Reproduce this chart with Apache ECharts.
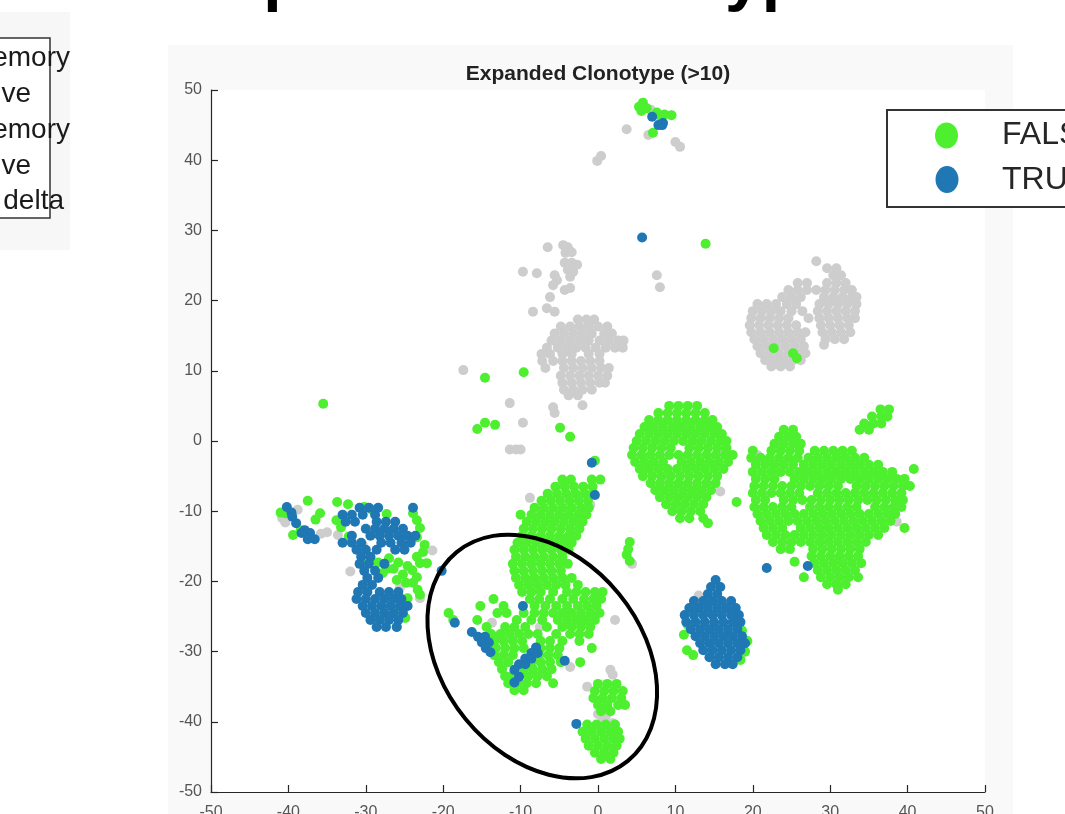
<!DOCTYPE html>
<html>
<head>
<meta charset="utf-8">
<script src="https://cdn.jsdelivr.net/npm/echarts@6/dist/echarts.min.js"></script>
<style>
  html, body { margin: 0; padding: 0; background: #fff; }
  #chart { width: 1065px; height: 814px; }
</style>
</head>
<body>
<div id="chart"></div>
<script>
// each row: [y, x1, x2, ...]  (t-SNE coordinates)
const grayRows = [
  [47.2, 6.8], [44.4, 3.7], [43.6, 6.5], [42.6, 10.0], [41.9, 10.6], [40.6, 0.4], [39.9, -0.1],
  [23.6, 7.6], [21.9, 8.0],
  [27.9, -4.5], [27.6, -6.5, -3.9], [26.9, -3.4], [26.8, -4.2], [25.4, -4.3, -3.4], [25.1, -2.7],
  [24.4, -3.9], [24.1, -9.7, -3.2], [23.9, -7.9], [23.6, -5.6], [23.4, -3.6], [22.9, -5.3],
  [22.2, -5.8], [21.8, -3.6], [21.5, -4.3], [20.5, -6.2], [18.9, -6.6], [18.4, -8.4, -5.6],
  [17.3, -2.6, -1.5, -0.5],
  [16.3, -4.8, -3.6, -2.4, -1.2, 0.0, 1.2],
  [15.3, -5.6, -4.4, -3.2, -2.0, -0.8, 0.8, 1.8],
  [14.3, -6.0, -4.8, -3.6, -2.4, -1.2, 0.2, 1.4, 2.6, 3.3],
  [13.3, -6.6, -5.2, -4.0, -2.8, -1.6, -0.3, 1.0, 2.2, 3.2],
  [12.4, -7.3, -6.2, -4.6, -3.4, -1.2, 0.2],
  [11.4, -7.2, -5.8, -4.6, -3.4, -2.2, -1.0, 0.2],
  [10.4, -6.8, -4.4, -3.2, -2.0, -0.8, 0.4, 1.4],
  [9.3, -4.8, -3.6, -2.4, -1.2, 0.0, 1.2],
  [8.3, -4.6, -3.4, -2.2, -1.0, 0.2, 0.9],
  [7.3, -4.4, -3.2, -2.0, -0.8],
  [6.5, -3.8, -2.6],
  [10.1, -17.4], [5.4, -11.4], [5.1, -2.0], [4.8, -5.8], [4.0, -5.6], [2.6, -9.7],
  [-1.2, -11.4, -10.6, -10.0], [-8.1, -8.8], [-9.1, -1.0],
  [25.6, 28.2], [24.6, 29.6, 30.8], [23.6, 30.4, 31.4],
  [22.5, 25.8, 27.0, 29.6, 30.8, 32.0],
  [21.5, 24.6, 25.8, 27.0, 28.2, 29.4, 30.6, 31.8, 32.8],
  [20.5, 23.8, 25.0, 26.2, 29.2, 30.4, 31.6, 32.8, 33.4],
  [19.5, 20.6, 21.8, 23.0, 24.4, 25.6, 28.6, 29.8, 31.0, 32.2, 33.4],
  [18.5, 20.0, 21.2, 22.4, 23.6, 25.0, 26.4, 28.4, 29.6, 30.8, 32.0, 33.2],
  [17.5, 19.8, 21.0, 22.2, 23.4, 24.6, 27.2, 28.6, 29.8, 31.0, 32.2, 33.2],
  [16.5, 19.6, 20.8, 22.0, 23.2, 24.4, 25.6, 28.8, 30.0, 31.2, 32.4],
  [15.5, 19.8, 21.0, 22.2, 23.4, 24.6, 25.8, 26.8, 29.0, 30.2, 31.4, 32.6],
  [14.5, 20.2, 21.4, 22.6, 23.8, 25.0, 26.2, 29.4, 30.6, 31.8],
  [13.7, 29.2],
  [13.5, 20.6, 21.8, 23.0, 24.2, 25.4, 26.6],
  [12.5, 21.0, 22.2, 23.4, 24.6, 25.8, 26.8],
  [11.5, 21.6, 22.8, 24.0, 25.2, 26.2],
  [10.6, 22.4, 23.6, 24.8],
  [-9.8, -38.8], [-11.0, -40.8], [-11.6, -40.4], [-13.0, -35.0], [-13.2, -35.8], [-13.4, -33.6],
  [-14.8, -30.4], [-15.6, -21.4], [-20.9, -25.6], [-22.4, -23.0], [-12.2, -28.2], [-18.6, -32.0],
  [-25.5, 2.2], [-25.9, -13.7], [-28.0, -12.7], [-32.2, -12.3, -3.6], [-26.5, -7.5], [-32.6, 1.6],
  [-35.0, -1.4], [-39.2, 1.0], [-39.7, 0.6], [-40.2, 1.9], [-38.9, 0.0], [-33.3, 1.9], [-17.5, 4.4],
  [-3.8, 6.2], [-5.2, 8.6], [-1.5, 15.6], [-7.2, 15.8],
  [-1.8, 31.4], [-15.2, 24.2], [-11.5, 38.6], [-6.8, 34.0], [-2.0, 20.6],
  [-22.0, 13.0], [-30.5, 18.5]
];

const falseRows = [
  [48.2, 5.8], [47.6, 5.3], [47.4, 6.3], [47.0, 5.6], [46.8, 7.6], [46.5, 8.6], [46.4, 9.5],
  [46.1, 8.2], [43.9, 7.1], [28.1, 13.9],
  [9.8, -9.6], [9.0, -14.6], [5.3, -35.5], [2.6, -14.6], [2.3, -13.3], [1.7, -15.6],
  [1.9, -4.9], [0.6, -3.6], [-2.8, -0.4],
  [13.2, 22.7], [12.5, 25.2], [11.8, 25.7],
  [-14.4, 4.1], [-15.4, 3.9], [-16.2, 3.7], [-17.1, 4.1],
  // left groups
  [-8.5, -37.5], [-10.3, -35.9, -40.4], [-10.2, -41.0], [-11.2, -36.5], [-12.7, -38.4], [-13.4, -39.4],
  [-8.7, -33.7], [-9.0, -32.3], [-9.4, -30.2], [-9.8, -29.2], [-10.4, -27.3], [-11.3, -33.8],
  [-12.3, -33.2], [-13.6, -32.2], [-17.0, -30.4],
  [-10.3, -23.9], [-11.3, -23.4], [-12.4, -23.0], [-13.7, -23.4], [-14.8, -22.4], [-15.8, -22.6],
  [-16.5, -23.4], [-17.4, -23.0, -22.1], [-18.4, -24.0], [-19.4, -23.4], [-20.2, -23.9],
  [-21.2, -23.3], [-21.9, -23.0],
  [-16.7, -29.4, -27.0], [-17.3, -28.4, -25.8], [-17.8, -24.6], [-18.2, -27.2, -26.4], [-19.0, -25.2],
  [-19.8, -26.0], [-20.2, -24.8], [-18.8, -27.8], [-23.6, -25.6], [-26.5, -26.0], [-25.2, -24.9],
  [-22.4, -24.6],
  // centre group and circled region
  [-5.5, -4.6, -3.5, -0.8, 0.3],
  [-6.5, -5.5, -4.3, -3.1, -1.9, -0.7],
  [-7.5, -6.5, -5.3, -4.1, -2.9, -1.7, -0.6],
  [-8.5, -7.3, -6.1, -4.9, -3.7, -2.5, -1.3],
  [-9.5, -8.2, -7.0, -5.8, -4.6, -3.4, -2.2, -1.2],
  [-10.5, -10.0, -8.6, -7.4, -6.2, -5.0, -3.8, -2.6, -1.5],
  [-11.5, -9.2, -8.0, -6.8, -5.6, -4.4, -3.2, -2.0],
  [-12.5, -9.6, -8.4, -7.2, -6.0, -4.8, -3.6, -2.4],
  [-13.5, -9.8, -8.6, -7.4, -6.2, -5.0, -3.8, -2.8],
  [-14.5, -10.4, -9.2, -8.0, -6.8, -5.6, -4.4, -3.4],
  [-15.5, -10.8, -9.6, -8.4, -7.2, -6.0, -4.8, -3.8],
  [-16.5, -10.6, -9.4, -8.2, -7.0, -5.8, -4.6],
  [-17.5, -11.0, -9.8, -8.6, -7.4, -6.2, -5.0, -3.9],
  [-18.5, -10.8, -9.6, -8.4, -7.2, -6.0, -4.8],
  [-19.5, -10.6, -9.4, -8.2, -7.0, -5.8, -4.6, -3.4],
  [-20.5, -10.2, -9.0, -7.8, -6.6, -5.4, -4.2, -2.6],
  [-21.5, -9.8, -8.6, -7.4, -5.8, -4.0, -2.8, -1.6, -0.4, 0.6],
  [-22.5, -13.5, -8.8, -7.6, -6.2, -4.6, -3.2, -1.8, -0.6, 0.4],
  [-23.5, -15.2, -12.2, -8.2, -6.8, -5.4, -4.0, -2.6, -1.4, -0.2],
  [-24.5, -19.3, -13.0, -11.8, -9.6, -8.2, -7.0, -5.8, -4.6, -3.4, -2.2, -1.0, 0.2],
  [-25.5, -18.7, -15.6, -10.5, -8.6, -7.2, -5.2, -4.0, -2.8, -1.6, -0.4],
  [-26.5, -14.4, -12.0, -10.8, -9.4, -6.6, -4.6, -3.4, -2.2, -1.0],
  [-27.5, -13.8, -12.6, -11.4, -10.2, -9.0, -7.8, -5.4, -3.6, -2.4, -1.2],
  [-28.5, -13.4, -12.2, -11.0, -9.8, -7.4, -6.2, -4.6, -2.4],
  [-29.5, -13.2, -12.0, -10.8, -9.6, -7.4, -6.2, -5.0, -0.8],
  [-30.5, -13.4, -12.2, -11.0, -7.6, -6.4, -5.2],
  [-31.5, -12.8, -11.6, -8.6, -7.4, -6.2, -4.8, -2.3],
  [-32.5, -12.4, -9.6, -8.4, -7.2, -6.0],
  [-33.5, -12.0, -11.2, -9.0, -7.8, -6.6],
  [-34.5, -11.6, -10.4, -9.2, -8.0, -5.8],
  [-35.5, -10.8, -9.6],
  [-34.6, 0.0, 1.2, 2.4], [-35.6, -0.4, 0.8, 2.0, 3.2], [-36.6, -0.6, 0.6, 1.8, 3.0],
  [-37.6, 0.0, 1.2, 2.6, 3.5], [-38.5, 0.4, 1.6],
  [-40.4, -1.4, -0.2, 1.0, 2.2], [-41.4, -2.0, -0.8, 0.4, 1.6, 2.6], [-42.4, -1.6, -0.4, 0.8, 2.0, 2.8],
  [-43.4, -1.2, 0.0, 1.2, 2.4], [-44.4, -0.4, 0.8, 2.0], [-45.3, 0.4, 1.6],
  // group around (10, -2)
  [5.0, 9.2, 10.4, 11.6, 12.8],
  [4.0, 7.8, 9.0, 10.2, 11.4, 12.6, 13.8],
  [3.0, 6.6, 7.8, 9.0, 10.2, 11.4, 12.6, 13.8, 14.8],
  [2.0, 6.0, 7.2, 8.4, 9.6, 10.8, 12.0, 13.2, 14.4, 15.4],
  [1.0, 5.4, 6.6, 7.8, 9.0, 10.2, 11.4, 12.6, 13.8, 15.0, 16.0],
  [0.0, 5.0, 6.2, 7.4, 8.6, 9.8, 11.0, 12.2, 13.4, 14.6, 15.8, 16.6],
  [-1.0, 4.6, 5.8, 7.0, 8.2, 9.4, 11.8, 13.0, 14.2, 15.4, 16.6],
  [-2.0, 4.4, 5.6, 6.8, 8.0, 9.2, 10.4, 11.6, 12.8, 14.0, 15.2, 16.4, 17.4],
  [-3.0, 4.8, 6.0, 7.2, 8.4, 10.8, 12.0, 13.2, 14.4, 15.6, 16.8],
  [-4.0, 5.4, 6.6, 7.8, 9.0, 10.2, 11.4, 12.6, 13.8, 15.0, 16.2],
  [-5.0, 5.8, 7.0, 8.2, 9.4, 10.6, 11.8, 13.0, 14.2, 15.4],
  [-6.0, 6.8, 8.0, 9.2, 10.4, 11.6, 12.8, 14.0, 15.2],
  [-7.0, 7.4, 8.6, 9.8, 11.0, 12.2, 13.4, 14.6],
  [-8.0, 8.0, 9.2, 10.4, 11.6, 12.8, 14.0],
  [-9.0, 8.8, 10.0, 11.2, 12.4, 13.6],
  [-10.0, 9.6, 10.8, 12.0, 13.2],
  [-11.0, 10.6, 11.8, 13.6],
  [-8.7, 17.9], [-11.7, 14.2],
  // group around (30, -8)
  [4.5, 36.5, 37.6], [3.5, 35.4, 36.6, 37.4], [2.5, 34.4, 35.6, 36.6],
  [1.6, 24.0, 25.2, 33.8, 35.0],
  [0.6, 23.4, 24.6, 25.6],
  [-0.4, 22.8, 24.0, 25.2, 26.2],
  [-1.4, 20.0, 22.4, 23.6, 24.8, 26.0, 28.0, 29.2, 30.4, 31.6, 32.8],
  [-2.4, 19.8, 21.0, 22.2, 23.4, 24.6, 25.8, 27.2, 28.4, 29.6, 30.8, 32.0, 33.2, 34.4],
  [-3.4, 20.4, 21.6, 22.8, 24.0, 25.2, 26.6, 27.8, 29.0, 30.2, 31.4, 32.6, 33.8, 35.0, 36.2],
  [-4.4, 20.0, 21.2, 22.4, 23.6, 24.8, 26.0, 27.2, 28.4, 29.6, 30.8, 32.0, 33.2, 34.4, 35.6, 36.8, 38.0],
  [-5.4, 20.4, 21.6, 22.8, 25.4, 26.6, 27.8, 29.0, 30.2, 31.4, 32.6, 33.8, 35.0, 36.2, 37.4, 38.6, 39.6],
  [-6.4, 20.2, 21.4, 22.6, 23.8, 25.0, 26.2, 27.4, 28.6, 29.8, 31.0, 33.4, 34.6, 35.8, 37.0, 38.2, 39.4, 40.3],
  [-7.4, 20.0, 21.2, 22.4, 23.6, 24.8, 26.0, 28.4, 29.6, 30.8, 32.0, 33.2, 34.4, 35.6, 36.8, 38.0, 39.2],
  [-8.4, 20.4, 21.6, 24.0, 25.2, 26.4, 27.6, 28.8, 30.0, 31.2, 32.4, 33.6, 34.8, 36.0, 37.2, 38.4, 39.4],
  [-9.4, 20.2, 21.4, 22.6, 23.8, 25.0, 27.4, 28.6, 29.8, 31.0, 32.2, 33.4, 35.8, 37.0, 38.2, 39.2],
  [-10.4, 20.6, 21.8, 23.0, 24.2, 25.4, 26.6, 27.8, 29.0, 30.2, 31.4, 32.6, 33.8, 35.0, 36.2, 37.4, 38.4],
  [-11.4, 21.0, 22.2, 23.4, 24.6, 25.8, 27.0, 28.2, 29.4, 30.6, 31.8, 33.0, 34.2, 35.4, 36.6, 37.8],
  [-12.4, 21.4, 22.6, 23.8, 26.2, 27.4, 28.6, 29.8, 31.0, 32.2, 33.4, 34.6, 35.8, 37.0],
  [-13.4, 21.8, 23.0, 24.2, 25.4, 26.6, 27.8, 29.0, 30.2, 31.4, 32.6, 33.8, 35.0, 36.2],
  [-14.4, 22.6, 23.8, 25.0, 26.2, 27.4, 28.6, 29.8, 31.0, 32.2, 33.4, 34.6],
  [-15.4, 23.6, 24.8, 27.8, 29.0, 30.2, 31.4, 32.6, 33.8],
  [-16.4, 27.6, 28.8, 30.0, 31.2, 32.4, 33.6],
  [-17.4, 28.0, 29.2, 30.4, 31.6, 32.8, 34.0],
  [-18.4, 28.4, 29.6, 30.8, 32.0, 33.2],
  [-19.4, 26.6, 28.8, 30.0, 31.2, 32.4, 33.6],
  [-20.4, 29.6, 30.8, 32.0],
  [-21.2, 31.0],
  [-4.0, 40.8], [-12.4, 39.6], [-17.2, 25.4],
  // edges of the blue group near (15, -26)
  [-26.2, 11.6], [-27.6, 11.1], [-29.8, 11.5], [-30.5, 12.3], [-23.4, 14.0],
  [-27.0, 18.6], [-28.5, 19.3], [-30.0, 19.0], [-31.2, 18.4]
];

const trueRows = [
  [46.2, 7.0], [45.3, 8.4], [45.0, 7.8, 8.3], [29.0, 5.7],
  [-3.1, -0.8], [-7.7, -0.4], [-18.1, 21.8], [-17.8, 27.1], [-40.3, -2.8], [-31.3, -4.3],
  [-23.5, -9.7], [-25.9, -18.5], [-18.5, -20.2],
  [-27.2, -16.3], [-27.9, -15.5, -14.6], [-28.7, -15.0, -14.1], [-29.5, -14.5], [-30.1, -13.9],
  [-29.4, -8.0], [-30.2, -8.6, -7.8], [-31.0, -9.4, -8.6], [-31.8, -10.2, -9.4], [-32.6, -10.8],
  [-33.6, -10.2], [-34.4, -10.8],
  [-9.4, -40.2], [-10.2, -39.6], [-10.8, -39.5], [-11.7, -39.0], [-12.7, -37.9],
  [-13.1, -37.2, -38.3], [-14.0, -37.5, -36.6],
  [-9.5, -30.8, -29.6, -28.4, -23.9],
  [-10.5, -33.0, -31.8, -30.4, -28.8],
  [-11.5, -32.6, -31.4, -28.6, -27.4, -26.2],
  [-12.5, -30.0, -28.8, -27.6, -26.4, -25.2],
  [-13.5, -31.8, -29.4, -28.2, -27.0, -25.8, -24.6, -23.6],
  [-14.5, -33.0, -31.8, -30.6, -28.0, -26.8, -25.4, -24.2],
  [-15.5, -31.2, -30.0, -28.6, -26.2, -25.0],
  [-16.5, -30.6, -29.4], [-17.5, -30.8, -29.6, -27.6], [-18.5, -30.2, -28.8],
  [-19.5, -29.8, -28.4], [-20.5, -30.4, -29.2],
  [-21.5, -31.0, -29.8, -28.2, -27.0, -25.8],
  [-22.5, -31.2, -30.0, -28.8, -27.6, -26.4, -25.4],
  [-23.5, -30.4, -29.2, -28.0, -26.8, -25.6, -24.6],
  [-24.5, -30.0, -28.8, -27.6, -26.4, -25.2],
  [-25.5, -29.4, -28.2, -27.0, -25.8],
  [-26.5, -28.6, -27.4, -26.0],
  [-19.8, 15.2], [-20.8, 14.6, 15.8], [-21.8, 14.2, 15.4],
  [-22.8, 12.4, 13.6, 14.8, 16.0, 17.2],
  [-23.8, 11.8, 13.0, 14.2, 15.4, 16.6, 17.8],
  [-24.8, 11.2, 12.4, 13.6, 14.8, 16.0, 17.2, 18.2],
  [-25.8, 11.4, 12.6, 13.8, 15.0, 16.2, 17.4, 18.4],
  [-26.8, 12.0, 13.2, 14.4, 15.6, 16.8, 18.0],
  [-27.8, 12.6, 13.8, 15.0, 16.2, 17.4, 18.6],
  [-28.8, 13.2, 14.4, 15.6, 16.8, 18.0, 19.0],
  [-29.8, 13.6, 14.8, 16.0, 17.2, 18.4],
  [-30.8, 14.4, 15.6, 16.8, 18.0],
  [-31.8, 15.2, 16.4, 17.4]
];

const axisTicks = [-50, -40, -30, -20, -10, 0, 10, 20, 30, 40, 50];
const seriesNames = ['FALSE', 'TRUE'];
const seriesColors = { NA: '#cdcdcd', FALSE: '#4def2f', TRUE: '#1f77b4' };
const leftLegendLabels = ['CD4 memory', 'CD4 naive', 'CD8 memory', 'CD8 naive', 'gamma delta'];
const ellipseCentre = [-7.2, -30.7];

function rowsToPoints(rows) {
  const out = [];
  rows.forEach(function (r) {
    for (let i = 1; i < r.length; i++) out.push([r[i], r[0]]);
  });
  return out;
}

const FONT = 'Liberation Sans, Arial, Helvetica, sans-serif';
const chart = echarts.init(document.getElementById('chart'));

const axisCommon = {
  type: 'value',
  min: axisTicks[0],
  max: axisTicks[axisTicks.length - 1],
  interval: 10,
  axisLine: { show: true, onZero: false, lineStyle: { color: '#262626', width: 1.2 } },
  axisTick: { show: true, inside: true, length: 7, lineStyle: { color: '#262626', width: 1.2 } },
  axisLabel: { color: '#555', fontSize: 16, fontFamily: FONT },
  splitLine: { show: false }
};

chart.setOption({
  backgroundColor: '#fff',
  animation: false,
  grid: {
    left: 211, right: 80, top: 90, bottom: 22,
    outerBoundsMode: 'none', containLabel: false,
    show: true, backgroundColor: '#fff', borderWidth: 0
  },
  xAxis: Object.assign({}, axisCommon, {
    axisLabel: Object.assign({}, axisCommon.axisLabel, { margin: 13 })
  }),
  yAxis: Object.assign({}, axisCommon, {
    axisLabel: Object.assign({}, axisCommon.axisLabel, { margin: 9 })
  }),
  series: [
    {
      name: 'NA', type: 'scatter', symbolSize: 10, data: rowsToPoints(grayRows),
      itemStyle: { color: seriesColors.NA, opacity: 1 }, z: 1
    },
    {
      name: seriesNames[0], type: 'scatter', symbolSize: 10, data: rowsToPoints(falseRows),
      itemStyle: { color: seriesColors.FALSE, opacity: 1 }, z: 2
    },
    {
      name: seriesNames[1], type: 'scatter', symbolSize: 10, data: rowsToPoints(trueRows),
      itemStyle: { color: seriesColors.TRUE, opacity: 1 }, z: 3
    }
  ]
});

// annotations: plot title, clipped figure title and legends, hand-drawn ellipse
const c = chart.convertToPixel({ gridIndex: 0 }, ellipseCentre);
const leftEnds = [70, 31, 70, 31, 64];
const leftY = [58, 94, 130, 166, 201];
const graphics = [
  { type: 'rect', z: -10, shape: { x: 168, y: 45, width: 845, height: 780 }, style: { fill: '#f9f9f9' } },
  { type: 'rect', z: -10, shape: { x: 0, y: 12, width: 70, height: 238 }, style: { fill: '#f7f7f7' } },
  { type: 'rect', z: 50, shape: { x: -20, y: 38, width: 70, height: 180 }, style: { fill: '#fff', stroke: '#333', lineWidth: 1.5 } },
  {
    type: 'text', z: 60, x: 529, y: 13,
    style: { text: 'Expanded Clonotypes', fontSize: 66, fontWeight: 'bold', fontFamily: FONT, fill: '#000', align: 'center', verticalAlign: 'bottom' }
  },
  {
    type: 'text', z: 60, x: 598, y: 74,
    style: { text: 'Expanded Clonotype (>10)', fontSize: 21, fontWeight: 'bold', fontFamily: FONT, fill: '#222', align: 'center', verticalAlign: 'middle' }
  },
  {
    type: 'ellipse', z: 100, x: c[0], y: c[1], rotation: -0.884,
    shape: { cx: 0, cy: 0, rx: 135, ry: 99 },
    style: { fill: 'none', stroke: '#000', lineWidth: 4 }
  },
  // right legend (box runs past the edge of the picture)
  { type: 'rect', z: 50, shape: { x: 887, y: 110, width: 300, height: 97 }, style: { fill: '#fff', stroke: '#333', lineWidth: 2 } },
  { type: 'ellipse', z: 60, shape: { cx: 946.5, cy: 135.5, rx: 11.5, ry: 13 }, style: { fill: seriesColors.FALSE } },
  { type: 'ellipse', z: 60, shape: { cx: 947, cy: 179.5, rx: 11.5, ry: 13.5 }, style: { fill: seriesColors.TRUE } },
  {
    type: 'text', z: 60, x: 1002, y: 135,
    style: { text: seriesNames[0], fontSize: 32, fontFamily: FONT, fill: '#262626', align: 'left', verticalAlign: 'middle' }
  },
  {
    type: 'text', z: 60, x: 1002, y: 180,
    style: { text: seriesNames[1], fontSize: 32, fontFamily: FONT, fill: '#262626', align: 'left', verticalAlign: 'middle' }
  }
];
leftLegendLabels.forEach(function (t, i) {
  graphics.push({
    type: 'text', z: 60, x: leftEnds[i], y: leftY[i],
    style: { text: t, fontSize: 28, fontFamily: FONT, fill: '#1a1a1a', align: 'right', verticalAlign: 'middle' }
  });
});
chart.setOption({ graphic: graphics });
</script>
</body>
</html>
